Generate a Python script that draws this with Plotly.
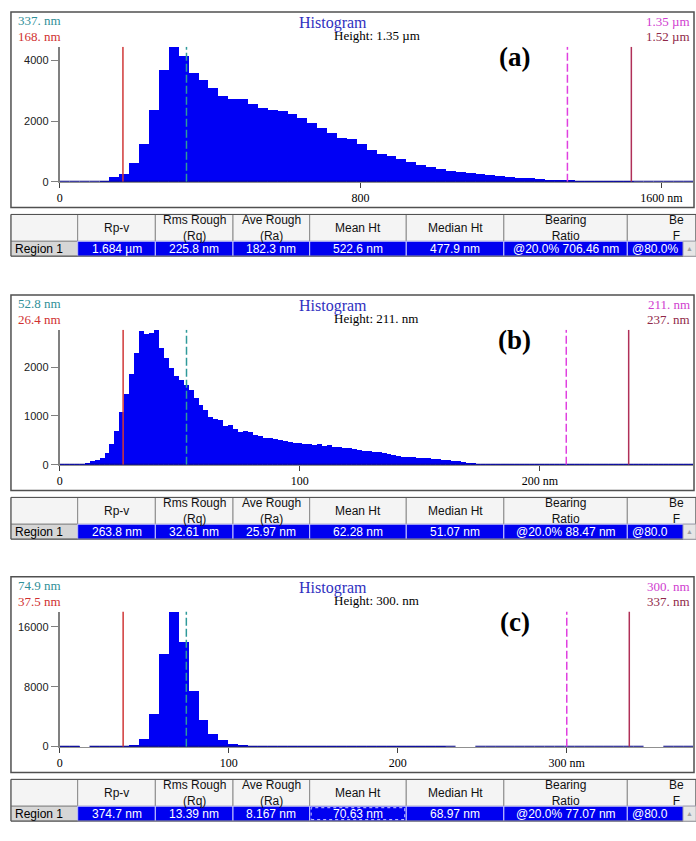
import plotly.graph_objects as go

W, H = 696, 841

# ---------------- data ----------------
panel_labels = ["(a)", "(b)", "(c)"]
rpv = [1684.0, 263.8, 374.7]          # histogram x range = Rp-v

counts_a = [1, 1, 1, 1, 30, 150, 250, 630, 1260, 2360,
            3700, 4450, 4150, 3590, 3360, 3090, 2830, 2720, 2720, 2580,
            2440, 2390, 2330, 2240, 2110, 1960, 1790, 1600, 1460, 1410,
            1256, 1060, 930, 845, 760, 650, 565, 490, 430, 380,
            335, 300, 260, 230, 195, 160, 140, 120, 100, 75,
            65, 55, 35, 20, 10, 5, 3, 2, 1, 1,
            1, 1, 1, 1]
counts_b = [5, 10, 15, 20, 30, 40, 80, 100, 140, 240,
            440, 690, 1090, 1450, 1860, 2300, 2740, 2690, 2700, 2770,
            2400, 2200, 2000, 1820, 1750, 1650, 1530, 1380, 1230, 1130,
            990, 950, 920, 800, 820, 730, 680, 700, 670, 620,
            600, 560, 550, 530, 510, 500, 475, 455, 455, 440,
            440, 415, 440, 390, 410, 360, 360, 345, 340, 325,
            310, 290, 280, 260, 260, 245, 225, 210, 190, 170,
            155, 155, 140, 140, 135, 130, 120, 105, 95, 85,
            75, 60, 45, 35, 25, 18, 14, 11, 9, 8,
            7, 6, 5, 5, 4, 4, 3, 3, 3, 3,
            3, 2, 2, 1, 1, 2, 2, 12, 8, 3,
            12, 4, 12, 3, 2, 2, 1, 1, 1, 1,
            1, 1, 1, 1, 1, 2, 12, 10]
counts_c = [20, 30, 0, 20, 30, 40, 130, 310, 1100, 4460,
            12420, 18030, 13970, 7470, 3580, 1770, 880, 440, 220, 120,
            80, 60, 40, 30, 25, 20, 20, 15, 15, 12,
            12, 10, 10, 8, 8, 6, 6, 5, 5, 4,
            0, 0, 4, 3, 3, 3, 2, 2, 2, 2,
            2, 2, 2, 2, 1, 1, 1, 1, 1, 0,
            0, 1, 1, 1]
all_counts = [counts_a, counts_b, counts_c]

cursor_red = [168.0, 26.4, 37.5]       # solid red
cursor_teal = [337.0, 52.8, 74.9]      # dashed teal
cursor_mag = [1350.0, 211.0, 300.0]    # dashed magenta
cursor_maroon = [1520.0, 237.0, 337.0] # solid maroon

corner_tl1 = ["337. nm", "52.8 nm", "74.9 nm"]
corner_tl2 = ["168. nm", "26.4 nm", "37.5 nm"]
corner_tr1 = ["1.35 µm", "211. nm", "300. nm"]
corner_tr2 = ["1.52 µm", "237. nm", "337. nm"]
height_text = ["Height: 1.35 µm", "Height: 211. nm", "Height: 300. nm"]

yticks = [[0, 2000, 4000], [0, 1000, 2000], [0, 8000, 16000]]
xticks = [[0, 800, 1600], [0, 100, 200], [0, 100, 200, 300]]
xticktext = [["0", "800", "1600 nm"], ["0", "100", "200 nm"],
             ["0", "100", "200", "300 nm"]]

table_header = ["", "Rp-v", "Rms Rough<br>(Rq)", "Ave Rough<br>(Ra)",
                "Mean Ht", "Median Ht", "Bearing<br>Ratio", "Be<br>F"]
table_rows = [
    ["Region 1", "1.684 µm", "225.8 nm", "182.3 nm", "522.6 nm", "477.9 nm",
     "@20.0% 706.46 nm", "@80.0%"],
    ["Region 1", "263.8 nm", "32.61 nm", "25.97 nm", "62.28 nm", "51.07 nm",
     "@20.0% 88.47 nm", "@80.0"],
    ["Region 1", "374.7 nm", "13.39 nm", "8.167 nm", "70.63 nm", "68.97 nm",
     "@20.0% 77.07 nm", "@80.0"],
]

# ---------------- layout constants ----------------
panel_top = [12, 297, 581]
col_edges = [8, 75, 153, 231, 308, 405, 503, 627, 696]
PLOT_L, PLOT_R = 57, 693
SERIF = "Liberation Serif, Times New Roman, serif"
SANS = "Liberation Sans, Arial, sans-serif"


def X(p):
    return p / W


def Y(p):
    return 1 - p / H


fig = go.Figure()
shapes = []
annotations = []

for i in range(3):
    T = panel_top[i]
    cnt = all_counts[i]
    n = len(cnt)
    bw = rpv[i] / n
    centers = [(k + 0.5) * bw for k in range(n)]
    xa = "x" if i == 0 else f"x{i+1}"
    ya = "y" if i == 0 else f"y{i+1}"
    ymax = max(cnt)

    fig.add_trace(go.Bar(x=centers, y=cnt, width=bw, xaxis=xa, yaxis=ya,
                         marker=dict(color="#0000F5", line=dict(width=0)),
                         hoverinfo="skip"))
    # navy base line where the histogram has counts
    bx, by = [], []
    for k in range(n):
        if cnt[k] > 0:
            bx += [k * bw, (k + 1) * bw, None]
            by += [0, 0, None]
    fig.add_trace(go.Scatter(x=bx, y=by, mode="lines", xaxis=xa, yaxis=ya,
                             line=dict(color="#000080", width=2),
                             cliponaxis=False, hoverinfo="skip"))

    axn = "" if i == 0 else str(i + 1)
    fig.layout["xaxis" + axn] = dict(
        domain=[X(PLOT_L), X(PLOT_R)], anchor=ya, range=[0, rpv[i]],
        showgrid=False, zeroline=False, showline=True, linecolor="#909090",
        linewidth=1, ticks="outside", ticklen=5, tickcolor="#404040",
        tickvals=xticks[i], ticktext=xticktext[i],
        tickfont=dict(family=SERIF, size=12, color="#000"), fixedrange=True)
    fig.layout["yaxis" + axn] = dict(
        domain=[Y(T + 171), Y(T + 35)], anchor=xa, range=[0, ymax],
        showgrid=False, zeroline=False, showline=True, linecolor="#808080",
        linewidth=2, ticks="outside", ticklen=7, tickcolor="#808080",
        tickvals=yticks[i], ticktext=[str(v) for v in yticks[i]],
        tickfont=dict(family=SANS, size=11, color="#202020"), fixedrange=True)

    # frame
    shapes.append(dict(type="rect", xref="paper", yref="paper", layer="below",
                       x0=X(8), x1=X(694), y0=Y(T + 197), y1=Y(T),
                       line=dict(color="#505050", width=1.5), fillcolor="white"))

    # cursor lines
    for val, col, dash in [(cursor_red[i], "#D03838", "solid"),
                           (cursor_teal[i], "#2F9A9A", "8px,3px"),
                           (cursor_mag[i], "#E040E0", "8px,3px"),
                           (cursor_maroon[i], "#B03058", "solid")]:
        shapes.append(dict(type="line", xref=xa, yref=ya, x0=val, x1=val,
                           y0=0, y1=ymax, line=dict(color=col, width=1.5, dash=dash)))

    # corner texts
    annotations += [
        dict(x=X(13), y=Y(T + 9), text=corner_tl1[i], xanchor="left",
             font=dict(family=SERIF, size=13, color="#2F8F98")),
        dict(x=X(13), y=Y(T + 25), text=corner_tl2[i], xanchor="left",
             font=dict(family=SERIF, size=13, color="#D03030")),
        dict(x=X(692), y=Y(T + 10), text=corner_tr1[i], xanchor="right",
             font=dict(family=SERIF, size=13, color="#D040D0")),
        dict(x=X(692), y=Y(T + 25), text=corner_tr2[i], xanchor="right",
             font=dict(family=SERIF, size=13, color="#902848")),
        dict(x=X(331), y=Y(T + 11), text="Histogram", xanchor="center",
             font=dict(family=SERIF, size=16, color="#3030C0")),
        dict(x=X(330), y=Y(T + 24), text=height_text[i], xanchor="left",
             font=dict(family=SERIF, size=13, color="#000")),
        dict(x=X(514), y=Y(T + 45), text="<b>" + panel_labels[i] + "</b>",
             xanchor="center", font=dict(family=SERIF, size=27, color="#000")),
    ]

    # ---------------- table ----------------
    t0, t1, t2 = T + 204, T + 231, T + 246
    for c in range(len(col_edges) - 1):
        a, b = col_edges[c], col_edges[c + 1]
        shapes.append(dict(type="rect", xref="paper", yref="paper",
                           x0=X(a), x1=X(b), y0=Y(t1), y1=Y(t0),
                           line=dict(color="#8A8A8A", width=1), fillcolor="#F4F4F4"))
        fill = "#D6D6D6" if c == 0 else "#0000F0"
        lc = "#8A8A8A" if c == 0 else "#C8C8FF"
        shapes.append(dict(type="rect", xref="paper", yref="paper",
                           x0=X(a), x1=X(b), y0=Y(t2), y1=Y(t1),
                           line=dict(color=lc, width=1), fillcolor=fill))
        hx = (a + b) / 2 if c < 7 else 676
        annotations.append(dict(x=X(hx), y=Y((t0 + t1) / 2), text=table_header[c],
                                xanchor="center", align="center",
                                font=dict(family=SANS, size=12, color="#111")))
        if c == 0:
            annotations.append(dict(x=X(a + 2), y=Y((t1 + t2) / 2), text=table_rows[i][c],
                                    xanchor="left", font=dict(family=SANS, size=12, color="#000")))
        elif c == 7:
            annotations.append(dict(x=X(a + 3), y=Y((t1 + t2) / 2), text=table_rows[i][c],
                                    xanchor="left", font=dict(family=SANS, size=12, color="#fff")))
        else:
            annotations.append(dict(x=X((a + b) / 2), y=Y((t1 + t2) / 2), text=table_rows[i][c],
                                    xanchor="center", font=dict(family=SANS, size=12, color="#fff")))
    shapes.append(dict(type="rect", xref="paper", yref="paper",
                       x0=X(col_edges[0]), x1=X(col_edges[-1]), y0=Y(t2), y1=Y(t0),
                       line=dict(color="#505050", width=1)))
    # scrollbar stub
    shapes.append(dict(type="rect", xref="paper", yref="paper",
                       x0=X(683), x1=X(696), y0=Y(t2), y1=Y(t1),
                       line=dict(color="#B0B0B0", width=1), fillcolor="#E6E6E6"))
    annotations.append(dict(x=X(689.5), y=Y((t1 + t2) / 2), text="▲", xanchor="center",
                            font=dict(family=SANS, size=7, color="#A0A0A0")))
    if i == 2:
        shapes.append(dict(type="rect", xref="paper", yref="paper",
                           x0=X(309.5), x1=X(403.5), y0=Y(t2 - 1.5), y1=Y(t1 + 1.5),
                           line=dict(color="#D0D0FF", width=1, dash="dot")))

for an in annotations:
    an.update(xref="paper", yref="paper", showarrow=False, yanchor="middle")

fig.update_layout(width=W, height=H, margin=dict(l=0, r=0, t=0, b=0),
                  paper_bgcolor="white", plot_bgcolor="rgba(0,0,0,0)",
                  showlegend=False, bargap=0, shapes=shapes, annotations=annotations)

fig.write_html("out.html", config={"displayModeBar": False},
               post_script="document.body.style.margin='0px';document.body.style.overflow='hidden';")
